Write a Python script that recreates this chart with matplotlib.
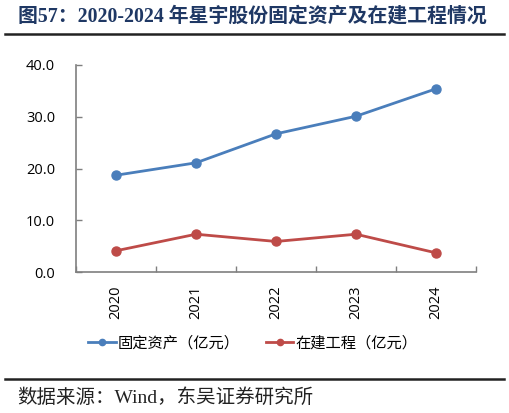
import matplotlib
matplotlib.use("Agg")
import matplotlib.pyplot as plt
from matplotlib.lines import Line2D

years = ["2020", "2021", "2022", "2023", "2024"]
fixed_assets = [18.7, 21.1, 26.7, 30.1, 35.4]
construction = [4.1, 7.3, 5.9, 7.3, 3.7]
series_names = ["固定资产（亿元）", "在建工程（亿元）"]
yticks = [0, 10, 20, 30, 40]

title = "图57：2020-2024 年星宇股份固定资产及在建工程情况"
source = "数据来源：Wind，东吴证券研究所"

BLUE = "#4A7EBB"
RED = "#BE4B48"
NAVY = "#1F3864"
AXC = "#7F7F7F"

W, H = 510, 413
fig = plt.figure(figsize=(W / 100, H / 100), dpi=100)
ax = fig.add_axes([76 / W, 1 - 272 / H, 400 / W, 207 / H])

x = list(range(len(years)))
ax.plot(x, fixed_assets, color=BLUE, lw=2.0, marker="o", ms=6.5, solid_capstyle="round")
ax.plot(x, construction, color=RED, lw=2.0, marker="o", ms=6.5, solid_capstyle="round")

ax.set_xlim(-0.5, len(years) - 0.5)
ax.set_ylim(0, 40)
ax.set_yticks(yticks)
ax.set_yticklabels([f"{v:.1f}" for v in yticks], fontsize=10.5, family=["Open Sans", "DejaVu Sans"])
ax.set_xticks(x)
ax.set_xticklabels(years, rotation=90, fontsize=10.5, family=["Open Sans", "DejaVu Sans"])
ax.set_xticks([i + 0.5 for i in range(-1, len(years))], minor=True)
ax.tick_params(axis="x", which="major", length=0, pad=10)
ax.tick_params(axis="x", which="minor", direction="in", length=4, width=1, color=AXC)
ax.tick_params(axis="y", direction="in", length=4, width=1, color=AXC, pad=15)

for s in ["top", "right"]:
    ax.spines[s].set_visible(False)
for s in ["left", "bottom"]:
    ax.spines[s].set_color(AXC)
    ax.spines[s].set_linewidth(1.2)
ax.patch.set_alpha(0)

# Title
fig.text(18 / W, 1 - 17 / H, title, fontsize=14.3, fontweight="bold", color=NAVY,
         family=["Liberation Serif", "Noto Sans CJK SC"], ha="left", va="center")
fig.add_artist(Line2D([5 / W, 504 / W], [1 - 34 / H, 1 - 34 / H], color="#222222", lw=1.8))

# Legend
handles = [Line2D([], [], color=BLUE, lw=2.0, marker="o", ms=4.5),
           Line2D([], [], color=RED, lw=2.0, marker="o", ms=4.5)]
fig.legend(handles, series_names, loc="center", bbox_to_anchor=(253 / W, 1 - 343 / H),
           ncol=2, frameon=False, prop={"family": ["Noto Sans CJK SC"], "size": 11},
           handlelength=1.8, handletextpad=0.15, columnspacing=1.7)

# Source
fig.add_artist(Line2D([5 / W, 504 / W], [1 - 379 / H, 1 - 379 / H], color="#222222", lw=1.8))
fig.text(17 / W, 1 - 398 / H, source, fontsize=14, color="#222222",
         family=["Liberation Serif", "Noto Sans CJK SC"], ha="left", va="center")

fig.savefig("out.png", dpi=100)
